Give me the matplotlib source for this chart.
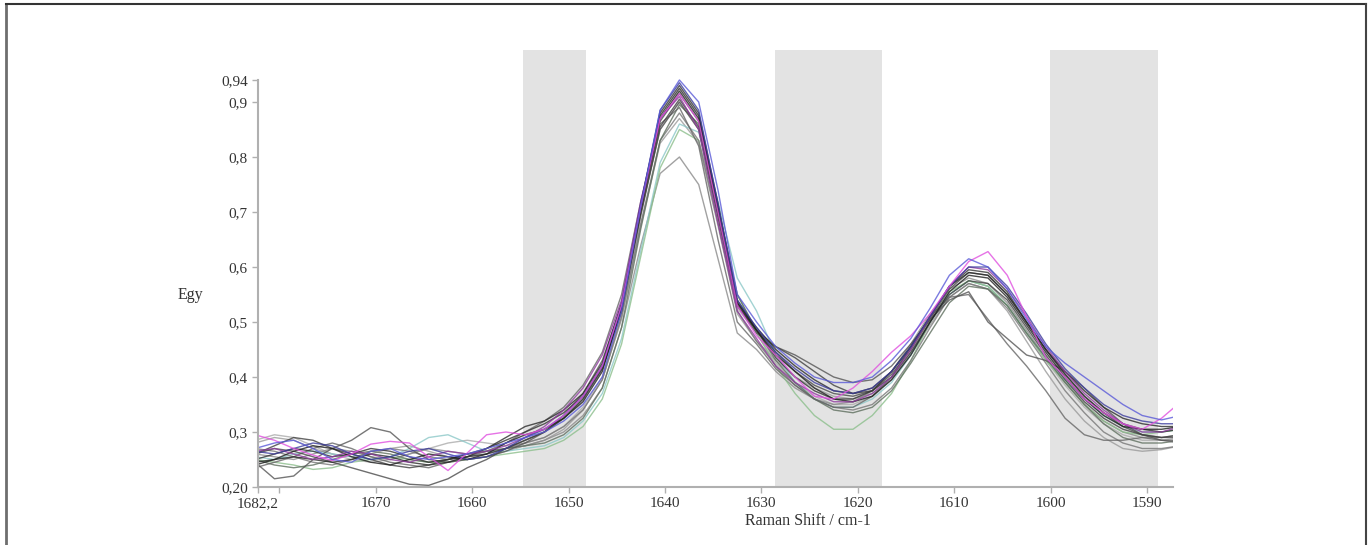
import matplotlib
matplotlib.use('Agg')
import matplotlib.pyplot as plt
from matplotlib.lines import Line2D

plt.rcParams['font.family'] = ['Liberation Serif', 'DejaVu Serif']

# Raman shift sampling (cm-1)
shift = [1682.5, 1680.5, 1678.5, 1676.5, 1674.5, 1672.5, 1670.5, 1668.5, 1666.5, 1664.5,
         1662.5, 1660.5, 1658.5, 1656.5, 1654.5, 1652.5, 1650.5, 1648.5, 1646.5, 1644.5,
         1642.5, 1640.5, 1638.5, 1636.5, 1634.5, 1632.5, 1630.5, 1628.5, 1626.5, 1624.5,
         1622.5, 1620.5, 1618.5, 1616.5, 1614.5, 1612.5, 1610.5, 1608.5, 1606.5, 1604.5,
         1602.5, 1600.5, 1598.5, 1596.5, 1594.5, 1592.5, 1590.5, 1588.5, 1586.5]

# spectra
blue_1 = [0.27, 0.28, 0.285, 0.27, 0.25, 0.245, 0.265, 0.27, 0.255, 0.25, 0.255, 0.26, 0.27, 0.28,
          0.29, 0.30, 0.32, 0.35, 0.40, 0.52, 0.71, 0.885, 0.94, 0.90, 0.74, 0.55, 0.50,
          0.455, 0.425, 0.40, 0.39, 0.39, 0.40, 0.43,
          0.47, 0.525, 0.585, 0.615, 0.60, 0.56, 0.505, 0.455,
          0.425, 0.40, 0.375, 0.35, 0.33, 0.322, 0.33]
magenta_1 = [0.295, 0.285, 0.27, 0.258, 0.248, 0.26, 0.278, 0.283, 0.28, 0.255, 0.23, 0.262, 0.295, 0.30,
             0.295, 0.305, 0.33, 0.365, 0.42, 0.53, 0.71, 0.87, 0.915, 0.865, 0.70, 0.53, 0.475,
             0.44, 0.40, 0.365, 0.36, 0.38, 0.41, 0.445,
             0.475, 0.515, 0.565, 0.61, 0.628, 0.585, 0.51, 0.435,
             0.40, 0.36, 0.335, 0.315, 0.305, 0.325, 0.355]
green_1 = [0.25, 0.245, 0.24, 0.232, 0.235, 0.245, 0.25, 0.255, 0.25, 0.245, 0.245, 0.25, 0.255, 0.26,
           0.265, 0.27, 0.285, 0.31, 0.36, 0.46, 0.62, 0.78, 0.85, 0.83, 0.70, 0.55, 0.48,
           0.42, 0.37, 0.33, 0.305, 0.305, 0.33, 0.37,
           0.43, 0.50, 0.555, 0.575, 0.565, 0.53, 0.48, 0.43,
           0.39, 0.35, 0.32, 0.30, 0.295, 0.30, 0.305]
gray_low = [0.26, 0.255, 0.25, 0.26, 0.27, 0.265, 0.255, 0.25, 0.26, 0.27, 0.265, 0.26, 0.265, 0.27,
            0.275, 0.285, 0.30, 0.33, 0.38, 0.49, 0.64, 0.77, 0.80, 0.75, 0.615, 0.48, 0.45,
            0.41, 0.38, 0.36, 0.35, 0.355, 0.375, 0.41,
            0.46, 0.515, 0.56, 0.58, 0.57, 0.535, 0.485, 0.435,
            0.39, 0.35, 0.32, 0.30, 0.29, 0.29, 0.295]
gray_kink = [0.245, 0.215, 0.22, 0.25, 0.27, 0.285, 0.308, 0.30, 0.27, 0.25, 0.245, 0.25, 0.255, 0.265,
             0.28, 0.30, 0.33, 0.37, 0.43, 0.53, 0.70, 0.85, 0.90, 0.85, 0.69, 0.53, 0.48,
             0.455, 0.44, 0.42, 0.40, 0.39, 0.395, 0.42,
             0.46, 0.505, 0.54, 0.555, 0.50, 0.47, 0.44, 0.43,
             0.41, 0.38, 0.345, 0.315, 0.295, 0.285, 0.285]
purple_1 = [0.265, 0.27, 0.26, 0.25, 0.255, 0.265, 0.26, 0.25, 0.245, 0.255, 0.265, 0.26, 0.265, 0.275,
            0.29, 0.31, 0.34, 0.38, 0.44, 0.54, 0.72, 0.87, 0.91, 0.85, 0.68, 0.52, 0.47,
            0.42, 0.39, 0.37, 0.355, 0.355, 0.37, 0.40,
            0.45, 0.51, 0.565, 0.60, 0.595, 0.56, 0.51, 0.455,
            0.41, 0.37, 0.34, 0.315, 0.30, 0.30, 0.31]
teal_1 = [0.255, 0.25, 0.26, 0.265, 0.26, 0.255, 0.25, 0.255, 0.27, 0.29, 0.295, 0.28, 0.265, 0.265,
          0.27, 0.275, 0.29, 0.32, 0.37, 0.47, 0.63, 0.79, 0.86, 0.845, 0.72, 0.58, 0.52,
          0.44, 0.39, 0.36, 0.345, 0.345, 0.36, 0.39,
          0.44, 0.50, 0.55, 0.575, 0.565, 0.53, 0.48, 0.435,
          0.395, 0.36, 0.33, 0.31, 0.30, 0.30, 0.305]
black_1 = [0.24, 0.25, 0.265, 0.275, 0.27, 0.255, 0.245, 0.24, 0.25, 0.26, 0.255, 0.25, 0.26, 0.28,
           0.295, 0.305, 0.325, 0.355, 0.41, 0.525, 0.705, 0.87, 0.92, 0.87, 0.705, 0.535, 0.485,
           0.44, 0.41, 0.38, 0.36, 0.355, 0.365, 0.395,
           0.44, 0.50, 0.555, 0.585, 0.58, 0.545, 0.495, 0.445,
           0.40, 0.36, 0.33, 0.31, 0.305, 0.305, 0.31]
dark_1 = [0.25, 0.26, 0.27, 0.265, 0.255, 0.26, 0.27, 0.265, 0.255, 0.245, 0.25, 0.26, 0.27, 0.285,
          0.30, 0.315, 0.335, 0.365, 0.42, 0.525, 0.715, 0.88, 0.93, 0.88, 0.715, 0.54, 0.485,
          0.435, 0.40, 0.375, 0.36, 0.36, 0.375, 0.41,
          0.455, 0.51, 0.565, 0.595, 0.59, 0.555, 0.50, 0.45,
          0.405, 0.365, 0.335, 0.315, 0.305, 0.30, 0.305]
gray_steep = [0.235, 0.245, 0.255, 0.27, 0.28, 0.27, 0.255, 0.245, 0.24, 0.235, 0.245, 0.255, 0.265, 0.28,
              0.30, 0.32, 0.345, 0.385, 0.445, 0.55, 0.72, 0.86, 0.89, 0.82, 0.65, 0.50, 0.46,
              0.415, 0.385, 0.36, 0.345, 0.345, 0.365, 0.40,
              0.455, 0.51, 0.545, 0.55, 0.505, 0.46, 0.42, 0.375,
              0.325, 0.295, 0.285, 0.285, 0.29, 0.285, 0.28]
gray_2 = [0.27, 0.265, 0.255, 0.245, 0.24, 0.25, 0.265, 0.27, 0.265, 0.255, 0.25, 0.255, 0.26, 0.27,
          0.28, 0.29, 0.31, 0.34, 0.395, 0.51, 0.68, 0.83, 0.88, 0.83, 0.68, 0.52, 0.465,
          0.42, 0.385, 0.36, 0.345, 0.34, 0.35, 0.38,
          0.43, 0.49, 0.545, 0.57, 0.56, 0.525, 0.475, 0.425,
          0.375, 0.335, 0.30, 0.28, 0.27, 0.27, 0.275]
gray_3 = [0.28, 0.29, 0.285, 0.27, 0.26, 0.255, 0.26, 0.27, 0.275, 0.265, 0.255, 0.25, 0.255, 0.265,
          0.275, 0.285, 0.305, 0.34, 0.395, 0.505, 0.675, 0.825, 0.87, 0.825, 0.675, 0.515, 0.465,
          0.43, 0.40, 0.38, 0.365, 0.36, 0.37, 0.395,
          0.44, 0.495, 0.545, 0.57, 0.56, 0.52, 0.465, 0.41,
          0.36, 0.32, 0.29, 0.27, 0.265, 0.268, 0.275]
dark_2 = [0.26, 0.275, 0.29, 0.285, 0.27, 0.26, 0.25, 0.24, 0.235, 0.24, 0.25, 0.255, 0.26, 0.27,
          0.285, 0.30, 0.325, 0.36, 0.415, 0.52, 0.695, 0.855, 0.905, 0.855, 0.695, 0.53, 0.485,
          0.455, 0.435, 0.41, 0.385, 0.37, 0.375, 0.40,
          0.445, 0.50, 0.55, 0.575, 0.57, 0.54, 0.49, 0.44,
          0.395, 0.355, 0.325, 0.305, 0.295, 0.29, 0.295]
greengray_1 = [0.25, 0.24, 0.235, 0.24, 0.25, 0.26, 0.265, 0.26, 0.25, 0.245, 0.25, 0.26, 0.265, 0.27,
               0.275, 0.28, 0.295, 0.325, 0.38, 0.49, 0.67, 0.83, 0.895, 0.86, 0.71, 0.55, 0.485,
               0.43, 0.39, 0.36, 0.34, 0.335, 0.345, 0.375,
               0.425, 0.48, 0.535, 0.565, 0.56, 0.53, 0.48, 0.435,
               0.39, 0.35, 0.315, 0.29, 0.28, 0.28, 0.285]
black_2 = [0.245, 0.25, 0.255, 0.25, 0.245, 0.25, 0.26, 0.255, 0.245, 0.24, 0.245, 0.255, 0.27, 0.29,
           0.31, 0.32, 0.34, 0.37, 0.425, 0.535, 0.71, 0.875, 0.925, 0.875, 0.71, 0.535, 0.49,
           0.45, 0.42, 0.395, 0.375, 0.37, 0.38, 0.41,
           0.455, 0.51, 0.565, 0.59, 0.585, 0.55, 0.50, 0.45,
           0.41, 0.375, 0.345, 0.325, 0.315, 0.31, 0.31]
navy_1 = [0.265, 0.26, 0.27, 0.28, 0.275, 0.26, 0.25, 0.255, 0.265, 0.27, 0.26, 0.25, 0.255, 0.27,
          0.29, 0.305, 0.33, 0.365, 0.42, 0.53, 0.715, 0.885, 0.935, 0.885, 0.715, 0.54, 0.49,
          0.445, 0.415, 0.39, 0.375, 0.37, 0.38, 0.41,
          0.455, 0.51, 0.565, 0.60, 0.60, 0.565, 0.515, 0.46,
          0.415, 0.38, 0.35, 0.33, 0.32, 0.315, 0.315]
light_1 = [0.285, 0.295, 0.29, 0.275, 0.26, 0.25, 0.245, 0.25, 0.26, 0.27, 0.28, 0.285, 0.28, 0.275,
           0.28, 0.29, 0.31, 0.345, 0.40, 0.515, 0.695, 0.85, 0.90, 0.85, 0.695, 0.525, 0.48,
           0.425, 0.39, 0.365, 0.35, 0.35, 0.365, 0.395,
           0.445, 0.50, 0.55, 0.575, 0.565, 0.53, 0.48, 0.43,
           0.385, 0.345, 0.315, 0.295, 0.285, 0.285, 0.29]
gray_dip = [0.26, 0.27, 0.265, 0.255, 0.245, 0.235, 0.225, 0.215, 0.205, 0.203, 0.215, 0.235, 0.25, 0.27,
            0.285, 0.30, 0.325, 0.36, 0.415, 0.52, 0.705, 0.865, 0.915, 0.865, 0.705, 0.53, 0.485,
            0.445, 0.41, 0.385, 0.37, 0.365, 0.375, 0.405,
            0.45, 0.505, 0.56, 0.59, 0.585, 0.55, 0.50, 0.45,
            0.405, 0.365, 0.335, 0.31, 0.295, 0.29, 0.29]

# grey bands (cm-1)
bands = [(1654.7, 1648.2), (1628.6, 1617.5), (1600.1, 1588.9)]

yticks = [0.20, 0.3, 0.4, 0.5, 0.6, 0.7, 0.8, 0.9, 0.94]
ytick_labels = ['0,20', '0,3', '0,4', '0,5', '0,6', '0,7', '0,8', '0,9', '0,94']
xticks = [1682.2, 1680, 1670, 1660, 1650, 1640, 1630, 1620, 1610, 1600, 1590]
xtick_labels = ['1682,2', '', '1670', '1660', '1650', '1640', '1630', '1620', '1610', '1600', '1590']

series = [
    (gray_3, '#9a9a9a'), (light_1, '#ababab'), (gray_low, '#8a8a8a'), (teal_1, '#8cc8c8'),
    (green_1, '#8cbf8c'), (gray_2, '#777777'), (greengray_1, '#5f6f5f'), (gray_steep, '#666666'),
    (gray_kink, '#555555'), (gray_dip, '#4a4a4a'), (dark_2, '#404040'), (dark_1, '#333333'),
    (black_2, '#2a2a2a'), (black_1, '#1e1e1e'), (purple_1, '#8e3a9e'), (navy_1, '#3c3c9c'),
    (magenta_1, '#e050e0'), (blue_1, '#5a5ad8'),
]

fig = plt.figure(figsize=(13.69, 5.45), dpi=100)
ax = fig.add_axes([0.1885, 0.1064, 0.6684, 0.8018])

for lo, hi in bands:
    ax.axvspan(lo, hi, color='#e3e3e3', lw=0, zorder=0)

for vals, col in series:
    ax.plot(shift, vals, color=col, lw=1.0, alpha=0.8)

ax.set_xlim(1682.2, 1587.3)
ax.set_ylim(0.2, 0.9945)

for s in ['top', 'right']:
    ax.spines[s].set_visible(False)
ax.spines['left'].set_bounds(0.2, 0.94)
for s in ['left', 'bottom']:
    ax.spines[s].set_color('#b0b0b0')
    ax.spines[s].set_linewidth(1.5)

ax.set_yticks(yticks)
ax.set_yticklabels(ytick_labels)
ax.set_xticks(xticks)
ax.set_xticklabels(xtick_labels)
ax.tick_params(colors='#b0b0b0', labelcolor='#333333', labelsize=11, length=4, width=1)

fig.text(190 / 1369, 1 - 295 / 545, 'Egy', ha='center', va='center', fontsize=11.5, color='#333333')
fig.text(808 / 1369, 1 - 521 / 545, 'Raman Shift / cm-1', ha='center', va='center',
         fontsize=11.5, color='#333333')

# frame around the figure (top, left, right)
fig.add_artist(Line2D([6 / 1369, 6 / 1369], [0, 1 - 4 / 545], color='#6e6e6e', lw=2))
fig.add_artist(Line2D([6 / 1369, 1366 / 1369], [1 - 4 / 545, 1 - 4 / 545], color='#333333', lw=1.5))
fig.add_artist(Line2D([1366 / 1369, 1366 / 1369], [0, 1 - 4 / 545], color='#444444', lw=1.5))

fig.savefig('out.png', dpi=100)
